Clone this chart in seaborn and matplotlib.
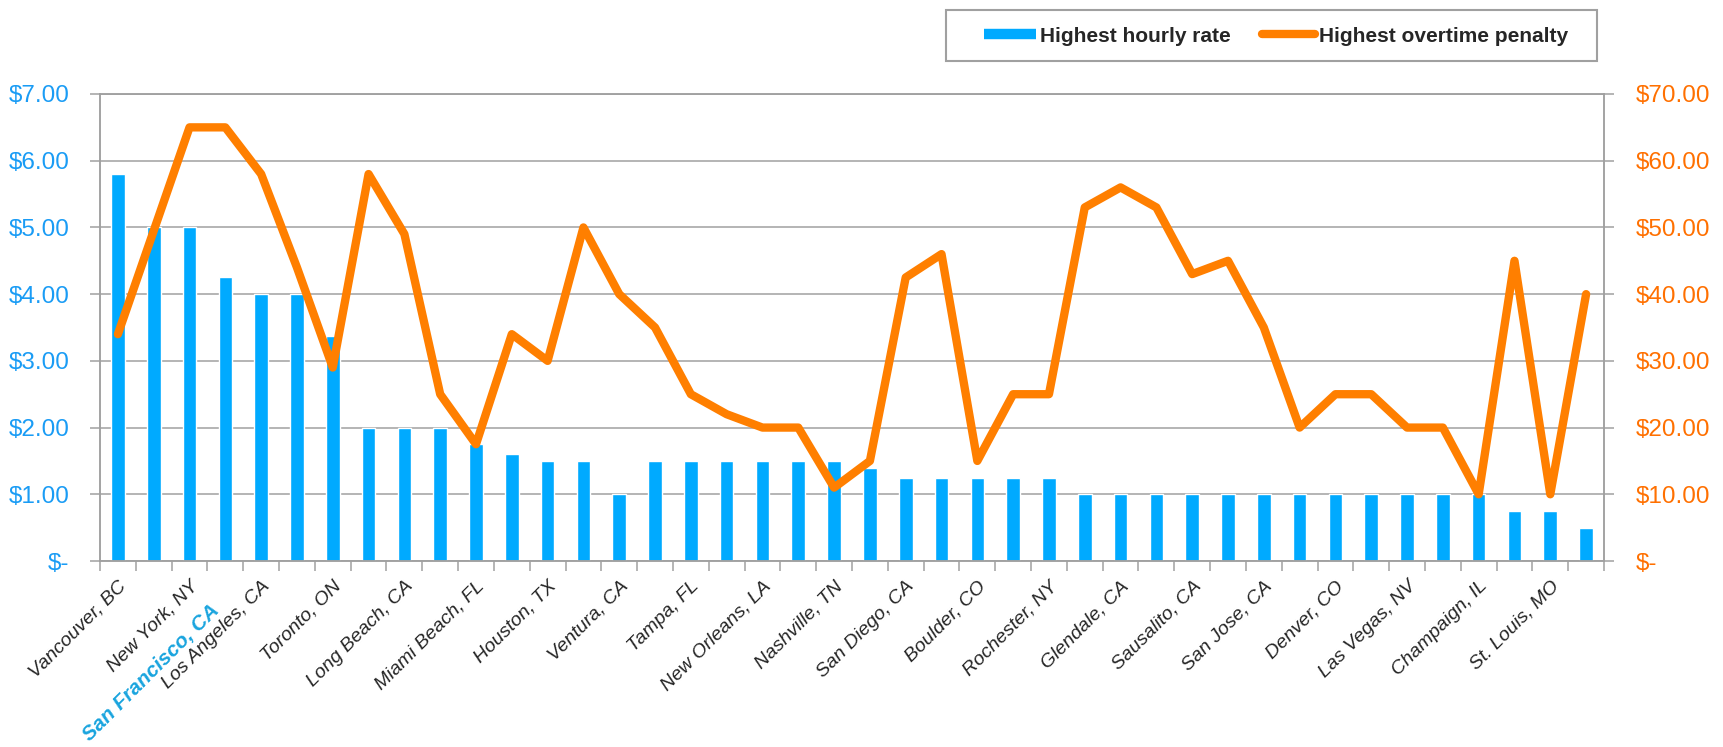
import matplotlib
matplotlib.use('Agg')
import matplotlib.pyplot as plt
import matplotlib.transforms as mtransforms
from matplotlib.lines import Line2D
from matplotlib.patches import Rectangle
from matplotlib.ticker import FuncFormatter
import numpy as np
import pandas as pd
import seaborn as sns

# values, one per bar (42 bars)
hourly_rate = [5.80, 5.00, 5.00, 4.25, 4.00, 4.00, 3.38, 2.00, 2.00, 2.00,
               1.75, 1.60, 1.50, 1.50, 1.00, 1.50, 1.50, 1.50, 1.50, 1.50,
               1.50, 1.40, 1.25, 1.25, 1.25, 1.25, 1.25, 1.00, 1.00, 1.00,
               1.00, 1.00, 1.00, 1.00, 1.00, 1.00, 1.00, 1.00, 1.00, 0.75,
               0.75, 0.50]
overtime_penalty = [34, 49.5, 65, 65, 58, 44, 29, 58, 49, 25,
                    17.5, 34, 30, 50, 40, 35, 25, 22, 20, 20,
                    11, 15, 42.5, 46, 15, 25, 25, 53, 56, 53,
                    43, 45, 35, 20, 25, 25, 20, 20, 10, 45,
                    10, 40]

# only every other city is labelled on the axis, plus the highlighted one
label_pos = [0, 2, 3, 4, 6, 8, 10, 12, 14, 16, 18, 20, 22, 24, 26, 28, 30,
             32, 34, 36, 38, 40]
label_names = ['Vancouver, BC', 'New York, NY', 'San Francisco, CA',
               'Los Angeles, CA', 'Toronto, ON', 'Long Beach, CA',
               'Miami Beach, FL', 'Houston, TX', 'Ventura, CA', 'Tampa, FL',
               'New Orleans, LA', 'Nashville, TN', 'San Diego, CA',
               'Boulder, CO', 'Rochester, NY', 'Glendale, CA', 'Sausalito, CA',
               'San Jose, CA', 'Denver, CO', 'Las Vegas, NV', 'Champaign, IL',
               'St. Louis, MO']
highlight = 'San Francisco, CA'

BLUE = '#00AAFF'
ORANGE = '#FF7F00'
GRAY = '#A0A0A0'

df = pd.DataFrame({'pos': range(len(hourly_rate)),
                   'rate': hourly_rate,
                   'penalty': overtime_penalty})

sns.set_theme(style='white')
plt.rcParams['font.family'] = ['Liberation Sans', 'DejaVu Sans']

fig = plt.figure(figsize=(17.23, 7.47), dpi=100)
ax = fig.add_axes([100 / 1723, 1 - 561 / 747, 1504 / 1723, 467 / 747])

sns.barplot(data=df, x='pos', y='rate', color=BLUE, saturation=1,
            width=0.38, ax=ax)
ax2 = ax.twinx()
sns.lineplot(data=df, x='pos', y='penalty', color=ORANGE, lw=6, ax=ax2,
             solid_joinstyle='round', solid_capstyle='round')

ax.set_xlim(-0.5, len(hourly_rate) - 0.5)
ax.set_ylim(0, 7)
ax2.set_ylim(0, 70)
ax.set_yticks(range(0, 8))
ax2.set_yticks(range(0, 80, 10))


def money(v, pos):
    return '$-' if v == 0 else f'${v:.2f}'


ax.yaxis.set_major_formatter(FuncFormatter(money))
ax2.yaxis.set_major_formatter(FuncFormatter(money))

ax.tick_params(axis='y', left=True, length=7, width=1.1, color=GRAY,
               labelcolor='#1A9CF5', labelsize=17.5, pad=15)
ax2.tick_params(axis='y', right=True, length=7, width=1.1, color=GRAY,
                labelcolor='#FF7000', labelsize=17.5, pad=16)

ax.yaxis.grid(True, color=GRAY, lw=1.1)
ax.set_axisbelow(True)

for a in (ax, ax2):
    for s in a.spines.values():
        s.set_color(GRAY)
        s.set_linewidth(1.1)
    a.set_xlabel('')
    a.set_ylabel('')

ax.set_xticks(label_pos)
ax.set_xticklabels(label_names, rotation=45, ha='right',
                   rotation_mode='anchor', fontstyle='italic', fontsize=14)
ax.set_xticks(np.arange(-0.5, len(hourly_rate), 1), minor=True)
ax.tick_params(axis='x', which='major', length=0, pad=12)
ax.tick_params(axis='x', which='minor', bottom=True, length=7, width=1.1,
               color=GRAY)

for lab in ax.get_xticklabels():
    if lab.get_text() == highlight:
        lab.set_color('#19A4DE')
        lab.set_fontweight('bold')
        lab.set_fontsize(15)
        lab.set_transform(lab.get_transform() + mtransforms.ScaledTranslation(
            -0.16, -0.23, fig.dpi_scale_trans))

# legend in a plain box at the top right
fig.add_artist(Rectangle((946 / 1723, 1 - 61 / 747), 651 / 1723, 51 / 747,
                         transform=fig.transFigure, fill=False,
                         edgecolor=GRAY, lw=1.5))
handles = [Line2D([], [], color=BLUE, lw=7.5, solid_capstyle='butt'),
           Line2D([], [], color=ORANGE, lw=6, solid_capstyle='round')]
fig.legend(handles, ['Highest hourly rate', 'Highest overtime penalty'],
           loc='center', bbox_to_anchor=(1276 / 1723, 1 - 36 / 747), ncol=2,
           frameon=False, prop={'weight': 'bold', 'size': 15},
           handlelength=2.5, handletextpad=0.2, columnspacing=1.5)

fig.savefig('out.png', dpi=100)
